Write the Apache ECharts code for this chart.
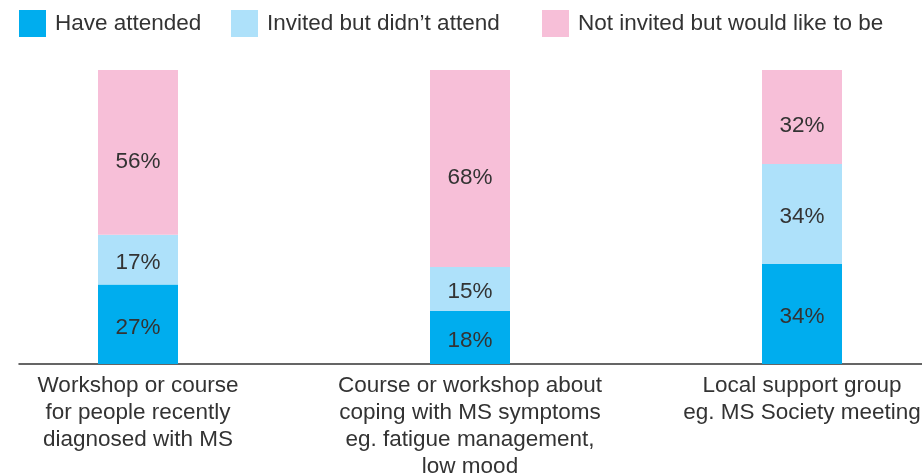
<!DOCTYPE html>
<html>
<head>
<meta charset="utf-8">
<script src="https://cdn.jsdelivr.net/npm/echarts@6/dist/echarts.min.js"></script>
<style>
  html, body { margin: 0; padding: 0; background: #fff; }
  #chart { width: 922px; height: 475px; }
</style>
</head>
<body>
<div id="chart"></div>
<script>
// Event categories (one stacked bar each)
const categories = [
  'Workshop or course\nfor people recently\ndiagnosed with MS',
  'Course or workshop about\ncoping with MS symptoms\neg. fatigue management,\nlow mood',
  'Local support group\neg. MS Society meeting'
];
const seriesNames = ['Have attended', 'Invited but didn\u2019t attend', 'Not invited but would like to be'];
// Percentages per category
const attended = [27, 18, 34];
const invitedNotAttended = [17, 15, 34];
const notInvitedWouldLike = [56, 68, 32];

const colors = ['#00adee', '#aee1fa', '#f7bfd8'];
const FONT = '"Liberation Sans", Arial, Helvetica, sans-serif';
const TEXT = '#333333';
const FONT_SIZE = 22.5;

function makeSeries(name, vals, color, labelOffset) {
  return {
    name: name,
    type: 'bar',
    stack: 'total',
    barWidth: 80,
    xAxisIndex: 0,
    yAxisIndex: 0,
    itemStyle: { color: color },
    label: {
      show: true,
      position: 'inside',
      offset: labelOffset,
      fontFamily: FONT,
      fontSize: FONT_SIZE,
      color: TEXT,
      formatter: '{c}%'
    },
    data: vals
  };
}

function legendItem(name, left) {
  return {
    data: [name],
    left: left,
    top: 10,
    padding: 0,
    icon: 'rect',
    itemWidth: 27,
    itemHeight: 27,
    selectedMode: false,
    textStyle: { fontFamily: FONT, fontSize: FONT_SIZE, color: TEXT, padding: [0, 0, 0, 4] }
  };
}

const chart = echarts.init(document.getElementById('chart'), null, { renderer: 'canvas' });
chart.setOption({
  animation: false,
  color: colors,
  legend: [
    legendItem(seriesNames[0], 19),
    legendItem(seriesNames[1], 231),
    legendItem(seriesNames[2], 542)
  ],
  grid: [
    // plotting grid: three equal category bands, wider than the canvas
    { left: -28, right: -46, top: 70, bottom: 111, containLabel: false, outerBoundsMode: 'none' },
    // baseline grid: spans the visible width
    { left: 19, right: 0, top: 70, bottom: 111, containLabel: false, outerBoundsMode: 'none' }
  ],
  xAxis: [
    {
      type: 'category',
      gridIndex: 0,
      data: categories,
      axisTick: { show: false },
      axisLine: { show: false },
      axisLabel: {
        interval: 0,
        fontFamily: FONT,
        fontSize: FONT_SIZE,
        lineHeight: 27,
        color: TEXT,
        margin: 8,
        align: 'center',
        verticalAlign: 'top'
      }
    },
    {
      type: 'value',
      gridIndex: 1,
      min: 0,
      max: 1,
      splitLine: { show: false },
      axisTick: { show: false },
      axisLabel: { show: false },
      axisLine: { show: true, lineStyle: { color: '#333', width: 1.5 } }
    }
  ],
  yAxis: [
    { type: 'value', gridIndex: 0, min: 0, max: 100, show: false },
    { type: 'value', gridIndex: 1, min: 0, max: 1, show: false }
  ],
  series: [
    makeSeries(seriesNames[0], attended, colors[0], [0, 3]),
    makeSeries(seriesNames[1], invitedNotAttended, colors[1], [0, 3]),
    makeSeries(seriesNames[2], notInvitedWouldLike, colors[2], [0, 9])
  ]
});
</script>
</body>
</html>
